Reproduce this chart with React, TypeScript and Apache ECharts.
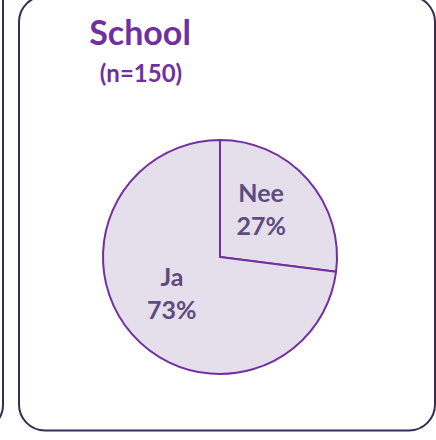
import React, { useEffect, useRef } from "react";
import * as echarts from "echarts";

const categories = ["Nee", "Ja"];
const values = [27, 73];
const titleText = "School";
const subtitleText = "(n=150)";

const PURPLE = "#7030a0";
const LABEL = "#5f4b7f";
const FILL = "#e5dfec";
const BORDER = "#3b2a55";
const FONT = "Lato, 'Open Sans', sans-serif";
const labelShift = [
  [-5, -8],
  [-2, -5],
];

export default function App() {
  const ref = useRef<HTMLDivElement>(null);
  useEffect(() => {
    if (!ref.current) return;
    const chart = echarts.init(ref.current, undefined, { renderer: "svg" });
    chart.setOption({
      animation: false,
      backgroundColor: "#ffffff",
      graphic: [
        {
          type: "rect",
          shape: { x: -100, y: -40, width: 103, height: 470, r: 25 },
          style: { fill: "none", stroke: BORDER, lineWidth: 2 },
          z: 0,
        },
        {
          type: "rect",
          shape: { x: 19, y: -4, width: 416, height: 434.5, r: 26 },
          style: { fill: "none", stroke: BORDER, lineWidth: 2 },
          z: 0,
        },
        {
          type: "text",
          x: 140,
          y: 31,
          style: {
            text: titleText,
            fill: PURPLE,
            font: `bold 34px ${FONT}`,
            textAlign: "center",
            textVerticalAlign: "middle",
          },
        },
        {
          type: "text",
          x: 141,
          y: 72,
          style: {
            text: subtitleText,
            fill: PURPLE,
            font: `bold 24px ${FONT}`,
            textAlign: "center",
            textVerticalAlign: "middle",
          },
        },
      ],
      series: [
        {
          type: "pie",
          center: [220, 257],
          radius: 117,
          startAngle: 90,
          clockwise: true,
          silent: true,
          itemStyle: { color: FILL, borderColor: PURPLE, borderWidth: 2 },
          label: {
            show: true,
            position: "inside",
            formatter: (p: any) => `${p.name}\n${p.value}%`,
            color: LABEL,
            fontFamily: FONT,
            fontWeight: "bold",
            fontSize: 25,
            lineHeight: 33,
          },
          labelLayout: (p: any) => ({
            dx: labelShift[p.dataIndex][0],
            dy: labelShift[p.dataIndex][1],
          }),
          labelLine: { show: false },
          data: categories.map((c, i) => ({ name: c, value: values[i] })),
        },
      ],
    });
    return () => chart.dispose();
  }, []);
  return (
    <div
      ref={ref}
      style={{ position: "fixed", left: 0, top: 0, width: 436, height: 440 }}
    />
  );
}
